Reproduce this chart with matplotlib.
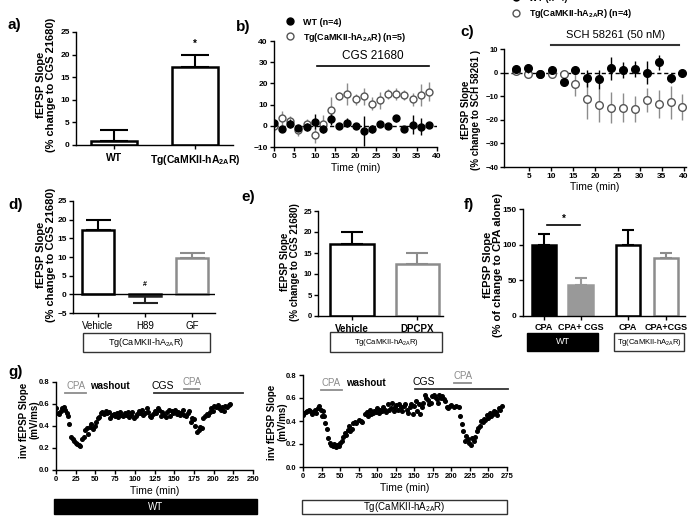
import matplotlib
matplotlib.use('Agg')
import matplotlib.pyplot as plt
from matplotlib.patches import Rectangle
from matplotlib.lines import Line2D

plt.rcParams['font.family'] = ['Liberation Sans', 'DejaVu Sans']
plt.rcParams['font.weight'] = 'bold'
plt.rcParams['mathtext.default'] = 'regular'

TG = 'Tg(CaMKII-hA$_{2A}$R)'

# a) CGS 21680 effect, WT vs Tg
a_labels = ['WT', TG]
a_mean = [0.8, 17.2]
a_sem = [2.5, 2.8]

# b) time course with CGS 21680
b_time = [0, 2, 4, 6, 8, 10, 12, 14, 16, 18, 20, 22, 24, 26, 28, 30, 32, 34, 36, 38]
b_wt = [1.5, -1.5, 1.0, -1.0, -0.5, 2.0, -1.5, 3.0, 0.0, 1.5, 0.0, -2.5, -1.5, 1.0, 0.0, 3.5, -1.5, 0.5, -0.5, 0.5]
b_wt_err = [1.5, 1.0, 2.0, 1.5, 2.0, 3.5, 2.0, 2.5, 1.5, 2.0, 1.5, 7.0, 2.0, 1.5, 1.5, 1.5, 1.5, 4.5, 4.0, 1.5]
b_tg = [0.0, 3.5, 2.5, -2.0, 1.0, -4.5, 1.0, 7.5, 14.0, 15.0, 12.5, 14.0, 10.5, 12.0, 15.0, 15.0, 14.5, 12.5, 14.5, 16.0]
b_tg_err = [3.0, 3.5, 2.0, 3.0, 2.0, 3.5, 4.0, 6.0, 2.0, 5.0, 2.5, 4.0, 3.0, 4.0, 2.5, 3.0, 2.5, 3.0, 5.0, 4.5]
b_cgs = [10.5, 38]

# c) time course with SCH 58261
c_time = [2.0, 4.7, 7.5, 10.2, 12.8, 15.3, 18.2, 20.9, 23.6, 26.3, 28.9, 31.6, 34.3, 37.0, 39.7]
c_wt = [1.4, 1.8, -0.8, 1.1, -3.8, 1.1, -2.4, -2.8, 1.8, 1.1, 1.6, 0.0, 4.3, -2.4, -0.3]
c_wt_err = [1.0, 2.0, 1.0, 1.0, 1.5, 1.0, 3.5, 4.0, 5.0, 3.5, 3.5, 5.0, 3.0, 2.0, 1.5]
c_tg = [0.5, -0.5, -0.5, -0.5, -0.5, -4.8, -11.3, -13.8, -14.8, -14.8, -15.3, -11.6, -13.3, -12.6, -14.5]
c_tg_err = [0.5, 0.5, 0.5, 0.5, 1.0, 5.0, 8.5, 7.0, 6.5, 6.0, 5.5, 5.0, 6.0, 7.0, 5.5]
c_sch = [10, 39]

# d) kinase inhibitors
d_labels = ['Vehicle', 'H89', 'GF']
d_mean = [17.2, -0.5, 9.8]
d_sem = [2.8, 1.8, 1.2]

# e) DPCPX
e_labels = ['Vehicle', 'DPCPX']
e_mean = [17.2, 12.3]
e_sem = [2.8, 2.8]

# f) CPA vs CPA + CGS
f_labels = ['CPA', 'CPA+ CGS', 'CPA', 'CPA+CGS']
f_mean = [100, 43, 100, 82]
f_sem = [15, 10, 20, 6]

# g) single experiments (time min, inv fEPSP slope mV/ms)
g_wt_points = [
    (0, 0.56), (2, 0.52), (4, 0.51), (6, 0.54), (8, 0.56), (10, 0.57), (12, 0.55), (14, 0.52),
    (15, 0.49), (17, 0.42), (19, 0.30), (21, 0.28), (23, 0.26), (25, 0.25), (27, 0.24), (29, 0.23),
    (31, 0.22), (33, 0.28), (35, 0.30), (37, 0.36), (39, 0.38), (41, 0.33), (43, 0.39), (45, 0.42),
    (47, 0.37), (49, 0.40), (51, 0.44), (53, 0.47), (55, 0.48), (57, 0.52), (59, 0.53), (61, 0.51),
    (63, 0.54), (65, 0.52), (67, 0.53), (69, 0.47), (71, 0.50), (73, 0.51), (75, 0.49), (77, 0.52),
    (79, 0.48), (81, 0.53), (83, 0.50), (85, 0.49), (87, 0.52), (89, 0.50), (91, 0.53), (93, 0.48),
    (95, 0.50), (97, 0.53), (99, 0.47), (101, 0.49), (103, 0.51), (105, 0.54), (107, 0.52), (109, 0.55),
    (111, 0.50), (113, 0.52), (115, 0.56), (117, 0.53), (119, 0.49), (121, 0.48), (123, 0.51), (125, 0.54),
    (127, 0.52), (129, 0.56), (131, 0.55), (133, 0.49), (135, 0.53), (137, 0.50), (139, 0.48), (141, 0.53),
    (143, 0.55), (145, 0.49), (147, 0.54), (149, 0.52), (151, 0.55), (153, 0.51), (155, 0.53), (157, 0.50),
    (159, 0.52), (161, 0.55), (163, 0.50), (165, 0.49), (167, 0.52), (169, 0.54), (171, 0.44), (173, 0.47),
    (175, 0.46), (177, 0.40), (179, 0.35), (181, 0.36), (183, 0.39), (185, 0.38), (187, 0.47), (189, 0.49),
    (191, 0.51), (193, 0.50), (195, 0.53), (197, 0.56), (199, 0.54), (201, 0.58), (203, 0.57), (205, 0.59),
    (207, 0.56), (209, 0.55), (211, 0.57), (213, 0.54), (215, 0.58), (217, 0.57), (219, 0.59), (221, 0.60),
]
g_tg_points = [
    (0, 0.45), (2, 0.47), (4, 0.48), (6, 0.49), (8, 0.50), (10, 0.49), (12, 0.46), (14, 0.48),
    (16, 0.50), (18, 0.47), (20, 0.51), (22, 0.53), (24, 0.50), (25, 0.44), (27, 0.49), (28, 0.44),
    (30, 0.38), (32, 0.33), (34, 0.25), (36, 0.21), (38, 0.19), (40, 0.18), (42, 0.20), (44, 0.17),
    (46, 0.19), (48, 0.18), (50, 0.21), (52, 0.23), (54, 0.26), (56, 0.30), (58, 0.28), (60, 0.32),
    (62, 0.36), (64, 0.31), (66, 0.33), (68, 0.38), (70, 0.39), (72, 0.38), (76, 0.41), (78, 0.40),
    (80, 0.39), (84, 0.46), (86, 0.48), (88, 0.44), (90, 0.50), (92, 0.46), (94, 0.47), (96, 0.49),
    (98, 0.48), (100, 0.51), (102, 0.47), (104, 0.50), (106, 0.49), (108, 0.52), (110, 0.50), (112, 0.48),
    (114, 0.55), (116, 0.50), (118, 0.51), (120, 0.56), (122, 0.49), (124, 0.52), (126, 0.54), (128, 0.50),
    (130, 0.55), (132, 0.52), (134, 0.49), (136, 0.53), (138, 0.55), (140, 0.50), (142, 0.47), (144, 0.52),
    (146, 0.55), (148, 0.46), (150, 0.53), (152, 0.57), (154, 0.49), (156, 0.55), (158, 0.46), (160, 0.52),
    (162, 0.56), (164, 0.63), (166, 0.60), (168, 0.58), (170, 0.55), (172, 0.56), (174, 0.62), (176, 0.63),
    (178, 0.61), (180, 0.59), (182, 0.56), (184, 0.63), (186, 0.60), (188, 0.62), (190, 0.59), (192, 0.57),
    (194, 0.52), (196, 0.51), (198, 0.53), (200, 0.54), (204, 0.52), (206, 0.53), (210, 0.52), (212, 0.44),
    (214, 0.37), (216, 0.31), (218, 0.23), (220, 0.27), (222, 0.24), (224, 0.21), (226, 0.19), (228, 0.25),
    (230, 0.23), (232, 0.26), (234, 0.31), (236, 0.34), (238, 0.36), (240, 0.40), (242, 0.39), (244, 0.42),
    (246, 0.41), (248, 0.45), (250, 0.43), (252, 0.47), (254, 0.44), (256, 0.46), (258, 0.49), (260, 0.48),
    (262, 0.45), (264, 0.51), (266, 0.50), (268, 0.53),
]
# drug application periods (min)
g_wt_cpa1, g_wt_cgs, g_wt_cpa2 = (12, 38), (124, 237), (163, 182)
g_tg_cpa1, g_tg_cgs, g_tg_cpa2 = (24, 52), (151, 276), (204, 227)

GRAY = '#8c8c8c'
W, H = 693, 517
fig = plt.figure(figsize=(W / 100, H / 100), dpi=100)


def px_axes(left, top, right, bottom):
    return fig.add_axes([left / W, 1 - bottom / H, (right - left) / W, (bottom - top) / H])


def style(ax):
    ax.spines['top'].set_visible(False)
    ax.spines['right'].set_visible(False)
    for s in ['left', 'bottom']:
        ax.spines[s].set_linewidth(1.0)
    ax.tick_params(labelsize=6, width=1.0, length=3, pad=1.5)


def bars(ax, x, mean, sem, fills, edges, width, cap):
    ax.bar(x, mean, width, color=fills, edgecolor=edges, linewidth=1.8, zorder=2)
    for xi, m, s, ec in zip(x, mean, sem, edges):
        err = [[0], [s]] if m >= 0 else [[s], [0]]
        ax.errorbar(xi, m, yerr=err, fmt='none', ecolor=ec, elinewidth=1.5,
                    capsize=cap, capthick=1.5, zorder=1)


def ylab(x, y, text, size=8):
    fig.text(x / W, 1 - y / H, text, rotation=90, ha='center', va='center',
             fontsize=size, fontweight='bold', multialignment='center', linespacing=1.05)


def label_box(left, top, right, bottom, text, dark=False, size=6.5):
    fig.add_artist(Rectangle((left / W, 1 - bottom / H), (right - left) / W, (bottom - top) / H,
                             transform=fig.transFigure, facecolor='black' if dark else 'white',
                             edgecolor='black' if dark else '#333333', linewidth=1.0))
    fig.text((left + right) / 2 / W, 1 - (top + bottom) / 2 / H, text, ha='center', va='center',
             fontsize=size, fontweight='normal', color='white' if dark else 'black')


def panel(x, y, letter):
    fig.text(x / W, 1 - y / H, letter, fontsize=11, fontweight='bold', ha='left', va='center')


# ---- a)
ax = px_axes(76, 32, 233, 145)
style(ax)
bars(ax, [0, 1], a_mean, a_sem, ['white', 'white'], ['black', 'black'], 0.57, 10)
ax.text(1, a_mean[1] + a_sem[1] + 1.2, '*', ha='center', va='bottom', fontsize=7)
ax.set_xlim(-0.47, 1.47)
ax.set_ylim(0, 25)
ax.set_yticks(range(0, 26, 5))
ax.set_xticks([0, 1])
ax.set_xticklabels(a_labels, fontsize=7.5)
ax.tick_params(axis='x', pad=3)
ylab(46, 85, 'fEPSP Slope\n(% change to CGS 21680)')
panel(8, 25, 'a)')

# ---- b)
ax = px_axes(274, 41, 437, 147)
style(ax)
ax.axhline(0, color='black', lw=1, ls=(0, (3, 2)), zorder=1)
ax.errorbar(b_time, b_tg, yerr=b_tg_err, fmt='o', ms=5, mfc='white', mec='#555555',
            mew=1.0, ecolor=GRAY, elinewidth=1.0, capsize=0, zorder=2)
ax.errorbar(b_time, b_wt, yerr=b_wt_err, fmt='o', ms=5, color='black',
            ecolor='black', elinewidth=1.0, capsize=0, zorder=3)
ax.plot(b_cgs, [28, 28], color='black', lw=1.2)
ax.text(sum(b_cgs) / 2, 30, 'CGS 21680', ha='center', va='bottom', fontsize=8.5, fontweight='normal')
ax.set_xlim(0, 40)
ax.set_ylim(-10, 40)
ax.set_xticks(range(0, 41, 5))
ax.set_yticks(range(-10, 41, 10))
ax.set_xlabel('Time (min)', fontsize=7.5, labelpad=2)
handles = [Line2D([], [], ls='none', marker='o', ms=5, color='black'),
           Line2D([], [], ls='none', marker='o', ms=5, mfc='white', mec='#555555')]
fig.legend(handles, ['WT (n=4)', 'Tg(CaMKII-hA$_{2A}$R) (n=5)'], loc='upper left',
           bbox_to_anchor=(280 / W, 1 - 13 / H), frameon=False, fontsize=6.5,
           handlelength=1.2, handletextpad=0.8, labelspacing=0.45, borderpad=0)
panel(236, 27, 'b)')

# ---- c)
ax = px_axes(504, 49, 686, 167)
style(ax)
ax.tick_params(axis='y', labelsize=5.5, pad=1)
ax.axhline(0, color='black', lw=1, ls=(0, (3, 2)), zorder=1)
ax.errorbar(c_time, c_tg, yerr=c_tg_err, fmt='o', ms=5.5, mfc='white', mec='#555555',
            mew=1.0, ecolor=GRAY, elinewidth=1.0, capsize=0, zorder=2)
ax.errorbar(c_time, c_wt, yerr=c_wt_err, fmt='o', ms=5.5, color='black',
            ecolor='black', elinewidth=1.0, capsize=0, zorder=3)
ax.plot(c_sch, [11.6, 11.6], color='#333333', lw=1.5, clip_on=False)
ax.text(sum(c_sch) / 2, 13.8, 'SCH 58261 (50 nM)', ha='center', va='bottom',
        fontsize=8, fontweight='normal')
ax.set_xlim(-0.7, 40.5)
ax.set_ylim(-40, 10)
ax.set_xticks(range(5, 41, 5))
ax.set_yticks(range(-40, 11, 10))
ax.set_xlabel('Time (min)', fontsize=7.5, labelpad=1)
fig.legend(handles, ['WT (n=4)', 'Tg(CaMKII-hA$_{2A}$R) (n=4)'], loc='upper left',
           bbox_to_anchor=(506 / W, 1 + 11 / H), frameon=False, fontsize=6.5,
           handlelength=1.2, handletextpad=0.8, labelspacing=0.55, borderpad=0)
ylab(471, 110, 'fEPSP Slope\n(% change to SCH 58261 )', size=7)
panel(460, 32, 'c)')

# ---- d)
ax = px_axes(73, 201, 215, 313)
style(ax)
bars(ax, [0, 1, 2], d_mean, d_sem, ['white'] * 3, ['black', '#222222', GRAY], 0.68, 9)
ax.axhline(0, color='black', lw=1, zorder=3)
ax.text(1, 1.8, '#', ha='center', va='bottom', fontsize=5)
ax.set_xlim(-0.53, 2.49)
ax.set_ylim(-5, 25)
ax.set_yticks(range(-5, 26, 5))
ax.set_xticks([0, 1, 2])
ax.set_xticklabels(d_labels, fontsize=7, fontweight='normal')
ax.tick_params(axis='x', pad=3)
ylab(46, 255, 'fEPSP Slope\n(% change to CGS 21680)')
label_box(83, 333, 210, 352, TG, size=6.5)
panel(8, 205, 'd)')

# ---- e)
ax = px_axes(318, 211, 443, 316)
style(ax)
ax.tick_params(axis='y', labelsize=5.5, pad=1)
bars(ax, [0, 1], e_mean, e_sem, ['white'] * 2, ['black', GRAY], 0.67, 8)
ax.set_xlim(-0.52, 1.39)
ax.set_ylim(0, 25)
ax.set_yticks(range(0, 26, 5))
ax.set_xticks([0, 1])
ax.set_xticklabels(e_labels, fontsize=7)
ax.tick_params(axis='x', pad=3)
ylab(290, 262, 'fEPSP Slope\n(% change to CGS 21680)', size=7)
label_box(330, 332, 442, 352, TG, size=5.5)
panel(241, 197, 'e)')

# ---- f)
ax = px_axes(523, 209, 685, 316)
style(ax)
f_x = [0, 1, 2.3, 3.35]
bars(ax, f_x, f_mean, f_sem, ['black', '#999999', 'white', 'white'],
     ['black', '#999999', 'black', GRAY], 0.66, 4.5)
ax.plot([0.08, 0.99], [128, 128], color='black', lw=1.2)
ax.text(0.53, 129, '*', ha='center', va='bottom', fontsize=7)
ax.set_xlim(-0.575, 3.86)
ax.set_ylim(0, 150)
ax.set_yticks([0, 50, 100, 150])
ax.set_xticks(f_x)
ax.set_xticklabels(f_labels, fontsize=6.5)
ax.tick_params(axis='x', pad=2)
ylab(493, 265, 'fEPSP Slope\n(% of change to CPA alone)')
label_box(527, 333, 598, 351, 'WT', dark=True, size=6.5)
label_box(614, 333, 684, 351, TG, size=5.5)
panel(464, 205, 'f)')


# ---- g)
def g_panel(ax, points, cpa1, cgs, cpa2, xmax, y_cpa1, y_cgs, y_cpa2, washout_x):
    style(ax)
    t, v = zip(*points)
    ax.plot(t, v, 'o', ms=2.6, color='black', ls='none')
    ax.plot(cpa1, [y_cpa1] * 2, color=GRAY, lw=1.3, clip_on=False)
    ax.text(sum(cpa1) / 2, y_cpa1 + 0.02, 'CPA', ha='center', va='bottom', fontsize=7,
            color=GRAY, fontweight='normal')
    ax.text(washout_x, y_cpa1 + 0.02, 'washout', ha='center', va='bottom', fontsize=7)
    ax.plot(cgs, [y_cgs] * 2, color='#333333', lw=1.3, clip_on=False)
    ax.text(cgs[0] + 12, y_cgs + 0.015, 'CGS', ha='center', va='bottom', fontsize=7.5,
            fontweight='normal')
    ax.plot(cpa2, [y_cpa2] * 2, color=GRAY, lw=1.3, clip_on=False)
    ax.text(sum(cpa2) / 2, y_cpa2 + 0.015, 'CPA', ha='center', va='bottom', fontsize=7,
            color=GRAY, fontweight='normal')
    ax.set_xlim(0, xmax)
    ax.set_ylim(0, 0.8)
    ax.set_xticks(range(0, xmax + 1, 25))
    ax.set_yticks([0, 0.2, 0.4, 0.6, 0.8])
    ax.set_yticklabels(['0.0', '0.2', '0.4', '0.6', '0.8'])
    ax.tick_params(labelsize=5.5)
    ax.set_xlabel('Time (min)', fontsize=7.5, labelpad=2)


ax = px_axes(56, 382, 253, 470)
g_panel(ax, g_wt_points, g_wt_cpa1, g_wt_cgs, g_wt_cpa2, 250, 0.70, 0.70, 0.74, 68)
ylab(29, 420, 'inv fEPSP Slope\n(mV/ms)', size=7)
label_box(54, 499, 257, 514, 'WT', dark=True, size=7)

ax = px_axes(303, 375, 507, 467)
g_panel(ax, g_tg_points, g_tg_cpa1, g_tg_cgs, g_tg_cpa2, 275, 0.67, 0.68, 0.73, 85)
ylab(277, 422, 'inv fEPSP Slope\n(mV/ms)', size=7)
label_box(302, 500, 507, 514, TG, size=7)
panel(8, 372, 'g)')

fig.savefig('out.png', dpi=100)
